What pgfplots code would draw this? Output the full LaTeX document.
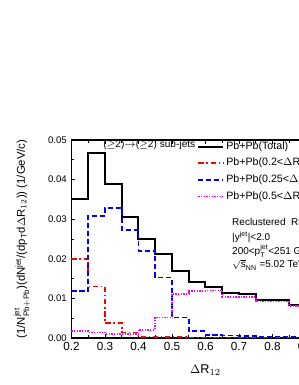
\documentclass[border=0pt]{standalone}
\usepackage{pgfplots}
\pgfplotsset{compat=1.18}
\usepackage{fontspec}
\setmainfont{Liberation Sans}
\definecolor{myred}{RGB}{255,0,0}
\definecolor{myblue}{RGB}{0,0,255}
\definecolor{mymag}{RGB}{255,0,255}
\begin{document}
\begin{tikzpicture}[x=0.75pt,y=0.75pt]
\begin{axis}[
  at={(0,0)}, anchor=south west,
  scale only axis, width=201pt, height=148.5pt,
  xmin=0.2, xmax=1.0, ymin=0, ymax=0.05,
  xtick={0.2,0.3,...,1.0}, minor xtick={0.25,0.35,...,0.95},
  ytick={0,0.01,...,0.05}, minor ytick={0.005,0.015,...,0.045},
  tick align=inside, major tick length=3pt, minor tick length=2pt,
  axis line style={line width=0.9pt}, every tick/.style={line width=0.6pt, black},
  /pgf/number format/assume math mode=true,
  xticklabel style={font=\fontsize{8.8}{10}\selectfont, /pgf/number format/.cd, fixed, fixed zerofill, precision=1},
  yticklabel style={font=\fontsize{7.2}{9}\selectfont, /pgf/number format/.cd, fixed, fixed zerofill, precision=2},
  scaled y ticks=false,
  xlabel={$\Delta$R$_{12}$},
  xlabel style={font=\fontsize{9.5}{11}\selectfont, at={(axis description cs:0.5,-0.162)}, anchor=center},
  ylabel={(1/N$^{\rm jet}_{\rm Pb+Pb}$)(dN$^{\rm jet}$/(dp$_{\rm T}$d$\Delta$R$_{12}$)) (1/GeV/c)},
  ylabel style={font=\fontsize{8.5}{10}\selectfont, at={(axis description cs:-0.185,0.5)}, anchor=center},
  legend style={at={(axis cs:0.5746,0.0497)}, anchor=north west, draw=none, fill=none,
     font=\fontsize{8}{10}\selectfont, inner sep=0pt, row sep=4.4pt,
     nodes={inner xsep=1.5pt, inner ysep=0pt, text height=6pt, text depth=2pt}},
  legend cell align=left,
  legend image code/.code={\draw[#1] (0pt,0pt) -- (18.75pt,0pt);},
]
\addplot[const plot, black, line width=1.5pt] coordinates {
(0.20,0.0350) (0.25,0.0466) (0.30,0.0388) (0.35,0.0306) (0.40,0.0250) (0.45,0.0211)
(0.50,0.0168) (0.55,0.0141) (0.60,0.0129) (0.65,0.0113) (0.70,0.0110) (0.75,0.0096)
(0.80,0.0097) (0.85,0.0084) (0.90,0.0076) (0.95,0.0068) (1.00,0.0068)};
\addlegendentry{Pb+Pb(Total)}
\addplot[const plot, color=myred, line width=1.3pt, dash pattern=on 4pt off 2pt on 1.2pt off 2pt] coordinates {
(0.20,0.0200) (0.25,0.0130) (0.30,0.0038) (0.35,0.0014) (0.40,0.0003) (0.45,0.0002)
(0.50,0.0002) (0.55,0.0001) (0.60,0.0001) (0.65,0.0001) (0.70,0.0001) (0.75,0.0001)
(0.80,0.0001) (0.85,0.0001) (0.90,0.0001) (0.95,0.0001) (1.00,0.0001)};
\addlegendentry{Pb+Pb(0.2<$\Delta$R$^{5}_{12}$<0.25)}
\addplot[const plot, color=myblue, line width=1.3pt, dash pattern=on 3.8pt off 2.2pt] coordinates {
(0.20,0.0118) (0.25,0.0309) (0.30,0.0329) (0.35,0.0273) (0.40,0.0220) (0.45,0.0153)
(0.50,0.0052) (0.55,0.0017) (0.60,0.0007) (0.65,0.0006) (0.70,0.0005) (0.75,0.0004)
(0.80,0.0004) (0.85,0.0003) (0.90,0.0003) (0.95,0.0002) (1.00,0.0002)};
\addlegendentry{Pb+Pb(0.25<$\Delta$R$^{5}_{12}$<0.5)}
\addplot[const plot, color=mymag, line width=1.3pt, dash pattern=on 1pt off 1pt] coordinates {
(0.20,0.0018) (0.25,0.0014) (0.30,0.0011) (0.35,0.0011) (0.40,0.0021) (0.45,0.0052)
(0.50,0.0112) (0.55,0.0119) (0.60,0.0120) (0.65,0.0104) (0.70,0.0104) (0.75,0.0092)
(0.80,0.0092) (0.85,0.0081) (0.90,0.0073) (0.95,0.0065) (1.00,0.0065)};
\addlegendentry{Pb+Pb(0.5<$\Delta$R$^{5}_{12}$<1.0)}
\node[anchor=west, inner sep=0pt, font=\fontsize{7.6}{9}\selectfont] at (axis cs:0.294,0.0487) {($\geq$2)$\rightarrow$($\geq$2) sub-jets};
\node[anchor=base west, inner sep=0pt, font=\fontsize{7.5}{9}\selectfont] at (axis cs:0.679,0.0283) {Reclustered\ \ R=0.2 sub-jets};
\node[anchor=base west, inner sep=0pt, font=\fontsize{7.5}{9}\selectfont] at (axis cs:0.679,0.0247) {|y$^{\rm jet}$|<2.0};
\node[anchor=base west, inner sep=0pt, font=\fontsize{7.5}{9}\selectfont] at (axis cs:0.679,0.0212) {200<p$^{\rm jet}_{\rm T}$<251 GeV/c};
\node[anchor=base west, inner sep=0pt, font=\fontsize{7.5}{9}\selectfont] at (axis cs:0.679,0.0177) {$\sqrt{\rm s}_{\rm NN}$ =5.02 TeV};
\end{axis}
\pgfresetboundingbox
\path[use as bounding box] (-71.5,-47) rectangle (226.5,338);
\end{tikzpicture}
\end{document}
